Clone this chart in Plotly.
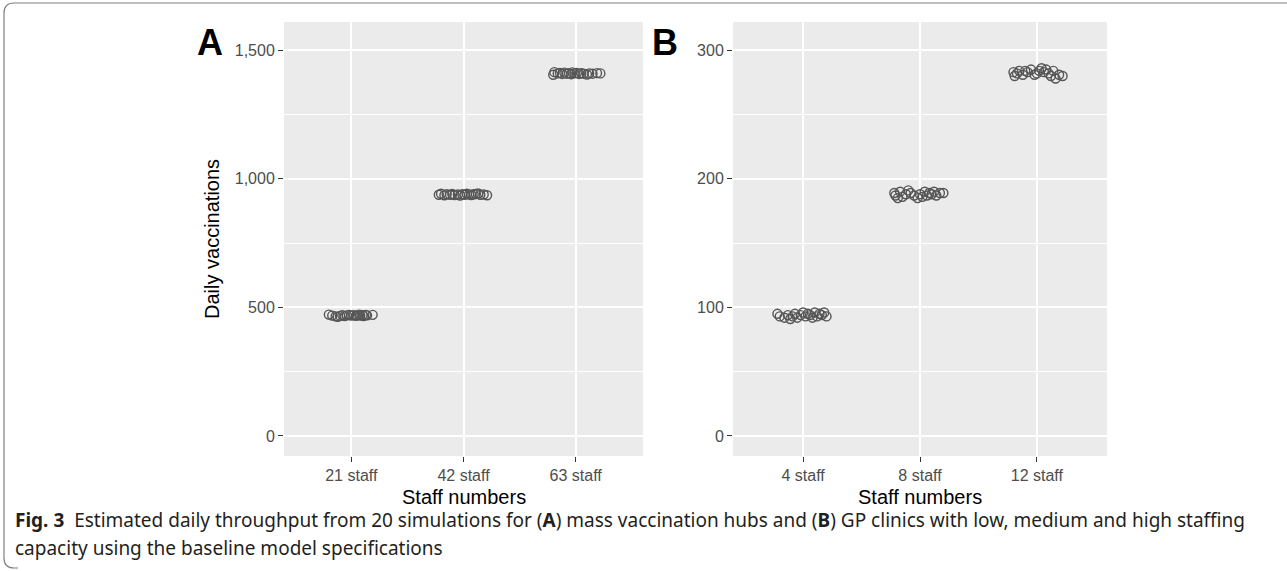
import plotly.graph_objects as go

W, H = 1287, 571

# ---------------- data ----------------
cats_a = ["21 staff", "42 staff", "63 staff"]
cats_b = ["4 staff", "8 staff", "12 staff"]

jit_a1 = [-0.20, -0.17, -0.14, -0.12, -0.10, -0.08, -0.06, -0.04, -0.02, 0.00,
          0.02, 0.04, 0.05, 0.07, 0.08, 0.10, 0.11, 0.13, 0.14, 0.19]
val_a1 = [472, 468, 465, 463, 467, 470, 466, 469, 471, 468,
          470, 467, 469, 472, 468, 470, 466, 471, 469, 471]

jit_a2 = [-0.22, -0.20, -0.17, -0.15, -0.12, -0.10, -0.08, -0.05, -0.03, -0.01,
          0.01, 0.03, 0.05, 0.07, 0.09, 0.11, 0.13, 0.15, 0.18, 0.21]
val_a2 = [938, 942, 936, 940, 938, 941, 937, 939, 935, 940,
          938, 942, 939, 937, 940, 941, 943, 938, 939, 936]

jit_a3 = [-0.20, -0.19, -0.16, -0.14, -0.12, -0.10, -0.08, -0.06, -0.04, -0.03,
          -0.01, 0.01, 0.03, 0.05, 0.07, 0.10, 0.12, 0.15, 0.19, 0.22]
val_a3 = [1405, 1415, 1410, 1412, 1408, 1413, 1409, 1411, 1407, 1414,
          1410, 1412, 1408, 1411, 1409, 1406, 1410, 1409, 1411, 1410]

jit_b1 = [-0.22, -0.20, -0.16, -0.13, -0.11, -0.09, -0.07, -0.05, -0.02, 0.00,
          0.02, 0.04, 0.06, 0.08, 0.10, 0.12, 0.14, 0.16, 0.18, 0.20]
val_b1 = [95, 93, 92, 94, 91, 93, 95, 92, 94, 96,
          93, 95, 94, 92, 96, 93, 95, 94, 96, 93]

jit_b2 = [-0.22, -0.21, -0.19, -0.17, -0.15, -0.12, -0.10, -0.08, -0.05, -0.02,
          0.00, 0.02, 0.04, 0.06, 0.08, 0.10, 0.12, 0.14, 0.17, 0.20]
val_b2 = [189, 187, 185, 190, 186, 188, 191, 189, 187, 185,
          188, 186, 190, 187, 189, 188, 190, 187, 189, 189]

jit_b3 = [-0.20, -0.19, -0.17, -0.15, -0.12, -0.10, -0.08, -0.05, -0.02, 0.00,
          0.02, 0.04, 0.06, 0.08, 0.10, 0.12, 0.14, 0.16, 0.19, 0.22]
val_b3 = [283, 280, 282, 284, 281, 284, 283, 285, 281, 282,
          284, 286, 283, 285, 282, 280, 284, 278, 281, 280]

ticks_a = [0, 500, 1000, 1500]
ticks_b = [0, 100, 200, 300]

# --------------- figure ---------------
fig = go.Figure()

marker = dict(symbol="circle-open", size=9, color="#555555",
              line=dict(width=1.4, color="#555555"))

def add_group(cat_index, jit, vals, xa, ya):
    xs = [cat_index + j for j in jit]
    fig.add_trace(go.Scatter(x=xs, y=vals, mode="markers", marker=marker,
                             xaxis=xa, yaxis=ya, showlegend=False,
                             hoverinfo="y"))

for i, (j, v) in enumerate([(jit_a1, val_a1), (jit_a2, val_a2), (jit_a3, val_a3)]):
    add_group(i + 1, j, v, "x", "y")
for i, (j, v) in enumerate([(jit_b1, val_b1), (jit_b2, val_b2), (jit_b3, val_b3)]):
    add_group(i + 1, j, v, "x2", "y2")

# panel geometry (pixels)
top_px, bot_px = 22, 456
ax_l, ax_r = 284, 643
bx_l, bx_r = 733, 1107
ydom = [1 - bot_px / H, 1 - top_px / H]

tickfont = dict(family="Liberation Sans, Arial, sans-serif", size=16, color="#4d4d4d")

common_x = dict(range=[0.4, 3.6], tickmode="array", tickvals=[1, 2, 3],
                showgrid=True, gridcolor="white", gridwidth=1.6,
                ticks="outside", ticklen=5, tickwidth=1.2, tickcolor="#333333",
                tickfont=tickfont, zeroline=False, showline=False, fixedrange=True)
common_y = dict(showgrid=True, gridcolor="white", gridwidth=1.6,
                ticks="outside", ticklen=5, tickwidth=1.2, tickcolor="#333333",
                tickfont=tickfont, zeroline=False, showline=False)

fig.update_layout(
    width=W, height=H,
    margin=dict(l=0, r=0, t=0, b=0),
    paper_bgcolor="white",
    plot_bgcolor="#ebebeb",
    xaxis=dict(domain=[ax_l / W, ax_r / W], anchor="y",
               ticktext=cats_a, **common_x),
    yaxis=dict(domain=ydom, anchor="x", range=[-78, 1610],
               tickmode="array", tickvals=ticks_a,
               ticktext=[f"{t:,}" for t in ticks_a],
               minor=dict(tickmode="array", tickvals=[250, 750, 1250],
                          showgrid=True, gridcolor="white", gridwidth=0.8),
               **common_y),
    xaxis2=dict(domain=[bx_l / W, bx_r / W], anchor="y2",
                ticktext=cats_b, **common_x),
    yaxis2=dict(domain=ydom, anchor="x2", range=[-15.6, 322],
                tickmode="array", tickvals=ticks_b,
                ticktext=[str(t) for t in ticks_b],
                minor=dict(tickmode="array", tickvals=[50, 150, 250],
                           showgrid=True, gridcolor="white", gridwidth=0.8),
                **common_y),
)

titlefont = dict(family="Liberation Sans, Arial, sans-serif", size=20, color="black")

def px(x, y):
    return x / W, 1 - y / H

ann = []
# axis titles
for cx in [(ax_l + ax_r) / 2, (bx_l + bx_r) / 2]:
    x, y = px(cx, 497)
    ann.append(dict(text="Staff numbers", x=x, y=y, xref="paper", yref="paper",
                    showarrow=False, font=titlefont, xanchor="center", yanchor="middle"))
x, y = px(212, (top_px + bot_px) / 2)
ann.append(dict(text="Daily vaccinations", x=x, y=y, xref="paper", yref="paper",
                showarrow=False, font=titlefont, textangle=-90,
                xanchor="center", yanchor="middle"))
# panel tags
for lab, cx in [("A", 210), ("B", 665)]:
    x, y = px(cx, 42)
    ann.append(dict(text=f"<b>{lab}</b>", x=x, y=y, xref="paper", yref="paper",
                    showarrow=False, xanchor="center", yanchor="middle",
                    font=dict(family="Liberation Sans, Arial, sans-serif", size=36, color="black")))
# caption
capfont = dict(family="Noto Sans, sans-serif", size=19, color="#231f20")
x, y = px(13, 520)
ann.append(dict(text="<b>Fig. 3</b>  Estimated daily throughput from 20 simulations for (<b>A</b>) mass vaccination hubs and (<b>B</b>) GP clinics with low, medium and high staffing",
                x=x, y=y, xref="paper", yref="paper", showarrow=False,
                xanchor="left", yanchor="middle", font=capfont))
x, y = px(13, 548)
ann.append(dict(text="capacity using the baseline model specifications",
                x=x, y=y, xref="paper", yref="paper", showarrow=False,
                xanchor="left", yanchor="middle", font=capfont))
fig.update_layout(annotations=ann)

# frame (rounded left corners)
r = 10
x0, y0, y1 = 4, 3, 568
def P(xp, yp):
    return f"{xp / W:.5f},{1 - yp / H:.5f}"
path = (f"M {P(W, y0)} L {P(x0 + r, y0)} Q {P(x0, y0)} {P(x0, y0 + r)} "
        f"L {P(x0, y1 - r)} Q {P(x0, y1)} {P(x0 + r, y1)} L {P(x0 + 14, y1)}")
fig.add_shape(type="path", path=path, xref="paper", yref="paper",
              line=dict(color="#7f7f7f", width=1.2))

fig.write_html("out.html")
